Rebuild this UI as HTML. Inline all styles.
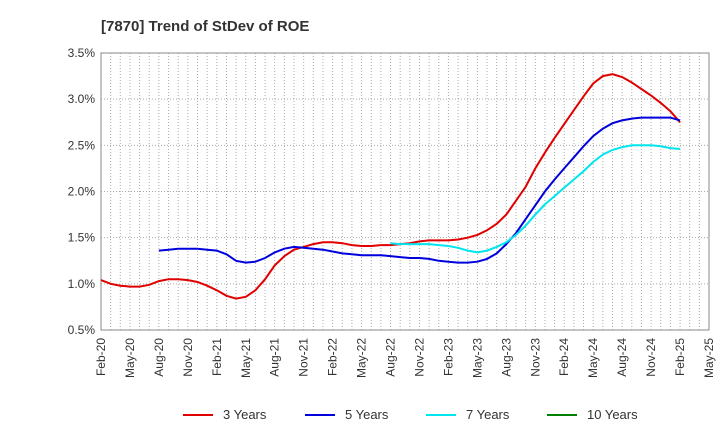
<!DOCTYPE html>
<html><head><meta charset="utf-8"><style>
body{margin:0;background:#fff;font-family:"Liberation Sans",Arial,sans-serif}
svg text{font-family:"Liberation Sans",Arial,sans-serif}
</style></head><body>
<svg id="c" width="720" height="440">
<text x="101" y="31" font-size="15" font-weight="bold" fill="#333">[7870]  Trend of StDev of ROE</text>
<g id="grid"></g><g id="axes"></g><g id="series"></g><g id="legend"></g>
</svg>
<script>
const xLabels=["Feb-20","May-20","Aug-20","Nov-20","Feb-21","May-21","Aug-21","Nov-21","Feb-22","May-22","Aug-22","Nov-22","Feb-23","May-23","Aug-23","Nov-23","Feb-24","May-24","Aug-24","Nov-24","Feb-25","May-25"];
const yTicks=[0.5,1.0,1.5,2.0,2.5,3.0,3.5];
const red=[1.04,1.00,0.98,0.97,0.97,0.99,1.03,1.05,1.05,1.04,1.02,0.98,0.93,0.87,0.84,0.86,0.93,1.05,1.20,1.30,1.37,1.40,1.43,1.45,1.45,1.44,1.42,1.41,1.41,1.42,1.42,1.43,1.44,1.46,1.47,1.47,1.47,1.48,1.50,1.53,1.58,1.65,1.75,1.90,2.05,2.25,2.42,2.58,2.73,2.88,3.03,3.17,3.25,3.27,3.24,3.18,3.11,3.04,2.96,2.87,2.75];
const blueStart=6;
const blue=[1.36,1.37,1.38,1.38,1.38,1.37,1.36,1.32,1.25,1.23,1.24,1.28,1.34,1.38,1.40,1.39,1.38,1.37,1.35,1.33,1.32,1.31,1.31,1.31,1.30,1.29,1.28,1.28,1.27,1.25,1.24,1.23,1.23,1.24,1.27,1.33,1.43,1.55,1.70,1.85,2.00,2.13,2.25,2.37,2.49,2.60,2.68,2.74,2.77,2.79,2.80,2.80,2.80,2.80,2.77];
const cyanStart=30;
const cyan=[1.44,1.43,1.43,1.43,1.43,1.42,1.41,1.39,1.36,1.34,1.36,1.40,1.45,1.53,1.63,1.75,1.86,1.95,2.04,2.13,2.22,2.32,2.40,2.45,2.48,2.50,2.50,2.50,2.49,2.47,2.46];
const X0=101,X1=709,Y0=330,Y1=53;
const nMonths=(xLabels.length-1)*3;
const xs=m=>X0+(X1-X0)*m/nMonths;
const ys=v=>Y0-(v-0.5)/(3.5-0.5)*(Y0-Y1);
const NS="http://www.w3.org/2000/svg";
function mk(p,t,a){const e=document.createElementNS(NS,t);for(const k in a)e.setAttribute(k,a[k]);p.appendChild(e);return e;}
const grid=document.getElementById('grid'),axes=document.getElementById('axes'),ser=document.getElementById('series'),leg=document.getElementById('legend');
for(let m=0;m<=nMonths;m++){const l=mk(grid,'line',{x1:xs(m),x2:xs(m),y1:Y1,y2:Y0,stroke:'#aaa','stroke-dasharray':'1,2','stroke-width':1});

}
yTicks.forEach(v=>{const l=mk(grid,'line',{x1:X0,x2:X1,y1:ys(v),y2:ys(v),stroke:'#aaa','stroke-dasharray':'1,2','stroke-width':1});


const t=mk(axes,'text',{x:X0-6,y:ys(v)+4,'text-anchor':'end','font-size':12,fill:'#333'});t.textContent=v.toFixed(1)+'%';

});
const fr=mk(axes,'rect',{x:X0,y:Y1,width:X1-X0,height:Y0-Y1,fill:'none',stroke:'#888'});


xLabels.forEach((s,i)=>{const x=xs(i*3);const t=mk(axes,'text',{x:x+4,y:Y0+8,'text-anchor':'end','font-size':12,fill:'#333',transform:`rotate(-90 ${x+4} ${Y0+8})`});t.textContent=s;

});
function line(arr,start,col,name){const d=arr.map((v,i)=>(i?'L':'M')+xs(start+i).toFixed(1)+','+ys(v).toFixed(1)).join('');
const p=mk(ser,'path',{d:d,fill:'none',stroke:col,'stroke-width':2});

}
line(red,0,'#e00000','line-3-years');
line(blue,blueStart,'#0000dd','line-5-years');
line(cyan,cyanStart,'#00e5ee','line-7-years');
const items=[['3 Years','#e00000',183],['5 Years','#0000dd',305],['7 Years','#00e5ee',426],['10 Years','#008000',547]];
items.forEach(([n,c,x])=>{const g=mk(leg,'g',{});


mk(g,'line',{x1:x,x2:x+30,y1:415,y2:415,stroke:c,'stroke-width':2});
const t=mk(g,'text',{x:x+40,y:419,'font-size':13,fill:'#333'});t.textContent=n;});
</script>
</body></html>
